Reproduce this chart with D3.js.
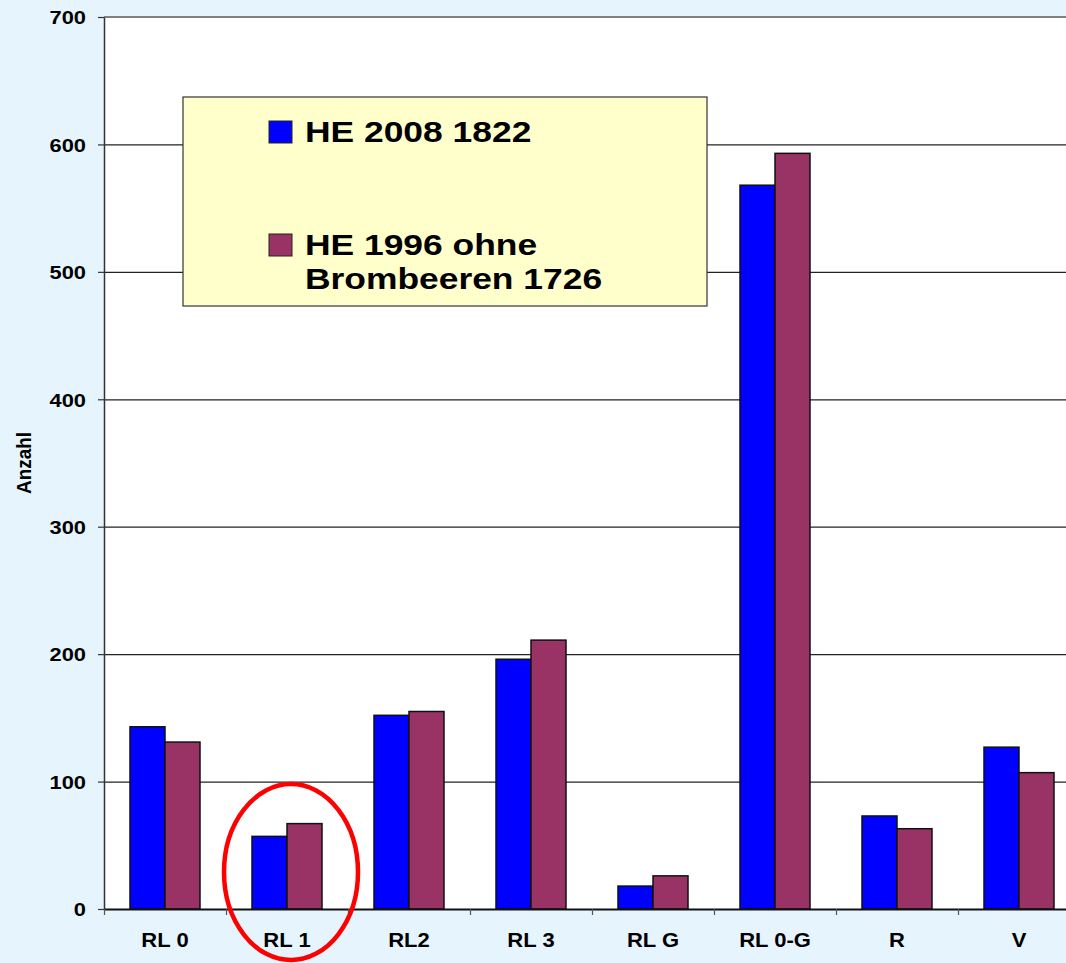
<!DOCTYPE html>
<html>
<head>
<meta charset="utf-8">
<script src="https://cdn.jsdelivr.net/npm/d3@7"></script>
<style>
  html, body { margin: 0; padding: 0; background: #e6f4fe; }
  svg { display: block; }
  text { font-family: "Liberation Sans", Arial, sans-serif; font-weight: bold; fill: #000; }
</style>
</head>
<body>
<svg id="chart" width="1066" height="963"></svg>
<script>
const categories = ["RL 0", "RL 1", "RL2", "RL 3", "RL G", "RL 0-G", "R", "V"];
const seriesNames = ["HE 2008 1822", "HE 1996 ohne Brombeeren 1726"];
const legendLines = [["HE 2008 1822"], ["HE 1996 ohne", "Brombeeren 1726"]];
const values2008 = [143, 57, 152, 196, 18, 568, 73, 127];
const values1996 = [131, 67, 155, 211, 26, 593, 63, 107];
const yTicks = [0, 100, 200, 300, 400, 500, 600, 700];
const yLabel = "Anzahl";
const highlighted = "RL 1";

const colors = ["#0000ff", "#993366"];

const svg = d3.select("#chart");
const plotLeft = 104, plotTop = 17, plotBottom = 909, bandW = 122;

const x = d3.scaleBand().domain(categories).range([plotLeft, plotLeft + bandW * categories.length]).padding(0);
const xs = d3.scaleBand().domain(seriesNames).range([26, 96]).padding(0);
const y = d3.scaleLinear().domain([0, 700]).range([plotBottom, plotTop]);

// plot area
svg.append("rect").attr("x", plotLeft).attr("y", plotTop)
  .attr("width", x.range()[1] - plotLeft).attr("height", plotBottom - plotTop).attr("fill", "#fff");

// gridlines
svg.append("g").selectAll("line").data(yTicks.filter(d => d > 0 && d < 700)).join("line")
  .attr("x1", plotLeft).attr("x2", x.range()[1])
  .attr("y1", d => y(d) + 0.5).attr("y2", d => y(d) + 0.5)
  .attr("stroke", "#222").attr("stroke-width", 1.2);

// top border
svg.append("line").attr("x1", plotLeft).attr("x2", x.range()[1])
  .attr("y1", plotTop).attr("y2", plotTop).attr("stroke", "#808080").attr("stroke-width", 2);

// bars
const rows = categories.map((c, i) => ({ cat: c, vals: [values2008[i], values1996[i]] }));
const groups = svg.append("g").selectAll("g").data(rows).join("g")
  .attr("transform", d => `translate(${x(d.cat)},0)`);
groups.selectAll("rect").data(d => d.vals.map((v, j) => ({ v, s: seriesNames[j], j }))).join("rect")
  .attr("x", d => xs(d.s))
  .attr("y", d => y(d.v))
  .attr("width", xs.bandwidth())
  .attr("height", d => y(0) - y(d.v))
  .attr("fill", d => colors[d.j])
  .attr("stroke", "#111").attr("stroke-width", 1.5);

// y axis
const yAxis = d3.axisLeft(y).tickValues(yTicks).tickSize(6).tickSizeOuter(0).tickPadding(12);
const gy = svg.append("g").attr("transform", `translate(${plotLeft},0)`).call(yAxis);
gy.select(".domain").attr("stroke", "#333").attr("stroke-width", 1.5);
gy.selectAll(".tick line").attr("stroke", "#333").attr("stroke-width", 1.2);
gy.selectAll(".tick text")
  .attr("font-size", 19).attr("font-family", "Liberation Sans, Arial, sans-serif").attr("font-weight", "bold")
  .attr("dy", "0.36em")
  .each(function() {
    const t = d3.select(this);
    const xx = +t.attr("x");
    t.attr("x", null).attr("transform", `translate(${xx},0) scale(1.15,1)`);
  });

// x axis
const xAxis = d3.axisBottom(x).tickSize(0).tickSizeOuter(0).tickPadding(0).tickFormat(d => d);
const gx = svg.append("g").attr("transform", `translate(0,${plotBottom})`).call(xAxis);
gx.select(".domain").attr("stroke", "#111").attr("stroke-width", 2);
gx.selectAll(".tick text")
  .attr("font-size", 20).attr("font-family", "Liberation Sans, Arial, sans-serif").attr("font-weight", "bold")
  .attr("y", null).attr("dy", null)
  .attr("transform", "translate(0,38) scale(1.1,1)");
// category separator ticks
svg.append("g").selectAll("line").data(categories).join("line")
  .attr("x1", d => x(d) + 0.5).attr("x2", d => x(d) + 0.5)
  .attr("y1", plotBottom).attr("y2", plotBottom + 6)
  .attr("stroke", "#555").attr("stroke-width", 1.2);

// y label
svg.append("text")
  .attr("transform", `translate(31,463) rotate(-90) scale(1.05,1.15)`)
  .attr("text-anchor", "middle")
  .attr("font-size", 18)
  .text(yLabel);

// legend
const lg = svg.append("g").attr("transform", "translate(183,97)");
lg.append("rect").attr("width", 524).attr("height", 209)
  .attr("fill", "#ffffcc").attr("stroke", "#333").attr("stroke-width", 1.2);
const legendY = [24, 137];
legendLines.forEach((lines, i) => {
  lg.append("rect").attr("x", 86).attr("y", legendY[i]).attr("width", 23).attr("height", 22)
    .attr("fill", colors[i]).attr("stroke", "#222").attr("stroke-width", 1);
  const t = lg.append("text")
    .attr("transform", `translate(122,${legendY[i] + 21}) scale(1.2,1)`)
    .attr("font-size", 29.5);
  lines.forEach((ln, k) => {
    t.append("tspan").attr("x", 0).attr("y", k * 34).text(ln);
  });
});

// highlight ellipse
svg.append("ellipse")
  .attr("cx", x(highlighted) + x.bandwidth() / 2 + 4)
  .attr("cy", y(29))
  .attr("rx", 67).attr("ry", 88)
  .attr("fill", "none").attr("stroke", "#ff0000").attr("stroke-width", 4.5);
</script>
</body>
</html>
